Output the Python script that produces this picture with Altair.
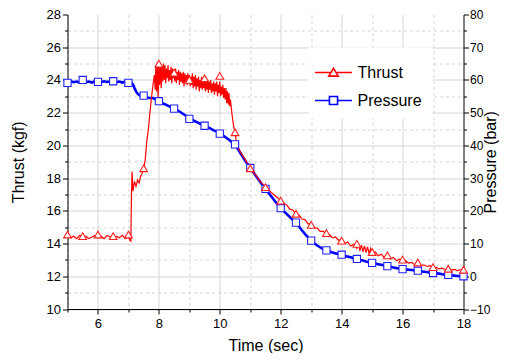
import altair as alt
import pandas as pd

FONT = "Liberation Sans"

# ---------------- data ----------------
# Thrust (kgf): quiet start, ignition jump, ramp
thrust_time_a = [5.0, 5.1, 5.2, 5.3, 5.4, 5.5, 5.6, 5.7, 5.8, 5.9, 6.0, 6.1, 6.2, 6.3, 6.4, 6.5, 6.6, 6.7, 6.8,
                 6.9, 7.0, 7.05, 7.08, 7.1, 7.12, 7.15, 7.2, 7.25, 7.3, 7.35, 7.4, 7.45, 7.5, 7.55, 7.6, 7.65,
                 7.7, 7.75, 7.8, 7.85, 7.88]
thrust_kgf_a = [14.7, 14.35, 14.45, 14.3, 14.5, 14.35, 14.45, 14.3, 14.4, 14.5, 14.35, 14.45, 14.3, 14.5, 14.4,
                14.3, 14.45, 14.35, 14.5, 14.3, 14.45, 14.2, 14.15, 17.0, 18.4, 17.2, 17.8, 17.5, 17.9, 17.7,
                18.1, 18.3, 18.6, 19.1, 20.2, 20.9, 21.9, 22.8, 23.6, 24.3, 23.4]
# Thrust (kgf): noisy plateau
thrust_time_b = [7.9, 7.925, 7.95, 7.975, 8.0, 8.025, 8.05, 8.075, 8.1, 8.125, 8.15, 8.175, 8.2, 8.225, 8.25,
                 8.275, 8.3, 8.325, 8.35, 8.375, 8.4, 8.425, 8.45, 8.475, 8.5, 8.525, 8.55, 8.575, 8.6, 8.625,
                 8.65, 8.675, 8.7, 8.725, 8.75, 8.775, 8.8, 8.825, 8.85, 8.875, 8.9, 8.925, 8.95, 8.975, 9.0,
                 9.025, 9.05, 9.075, 9.1, 9.125, 9.15, 9.175, 9.2, 9.225, 9.25, 9.275, 9.3, 9.325, 9.35, 9.375,
                 9.4, 9.425, 9.45, 9.475, 9.5, 9.525, 9.55, 9.575, 9.6, 9.625, 9.65, 9.675, 9.7, 9.725, 9.75,
                 9.775, 9.8, 9.825, 9.85, 9.875, 9.9, 9.925, 9.95, 9.975, 10.0, 10.025, 10.05, 10.075, 10.1,
                 10.125, 10.15, 10.175, 10.2, 10.225, 10.25, 10.275, 10.3, 10.325, 10.35]
thrust_kgf_b = [24.9, 23.3, 25.1, 22.9, 24.9, 23.7, 25.0, 23.5, 24.8, 23.9, 25.0, 24.0, 24.9, 23.8, 24.7, 24.1,
                24.9, 23.9, 24.6, 24.0, 24.8, 23.8, 24.7, 24.1, 24.6, 23.9, 24.7, 23.8, 24.5, 24.0, 24.6, 23.7,
                24.5, 23.9, 24.4, 23.8, 24.5, 23.6, 24.4, 23.9, 24.3, 23.7, 24.4, 23.8, 24.3, 23.6, 24.2, 23.7,
                24.4, 23.5, 24.2, 23.6, 24.3, 23.4, 24.1, 23.6, 24.2, 23.3, 24.0, 23.5, 24.2, 23.4, 24.0, 23.5,
                24.1, 23.3, 23.9, 23.4, 24.0, 23.2, 23.9, 23.4, 24.0, 23.2, 23.8, 23.3, 23.9, 23.1, 23.8, 23.3,
                23.9, 23.0, 23.7, 23.2, 23.9, 23.0, 23.6, 23.1, 23.7, 22.9, 23.5, 22.8, 23.5, 22.6, 23.3, 22.5,
                23.2, 22.4, 22.8]
# Thrust (kgf): burnout and tail-off
thrust_time_c = [10.4, 10.45, 10.5, 10.55, 10.6, 10.7, 10.8, 10.9, 11.0, 11.1, 11.2, 11.3, 11.4, 11.5, 11.6,
                 11.7, 11.8, 11.9, 12.0, 12.1, 12.2, 12.3, 12.4, 12.5, 12.6, 12.7, 12.8, 12.9, 13.0, 13.1, 13.2,
                 13.3, 13.4, 13.5, 13.6, 13.7, 13.8, 13.9, 14.0, 14.1, 14.2, 14.3, 14.4, 14.5, 14.55, 14.6, 14.65,
                 14.7, 14.75, 14.8, 14.85, 14.9, 14.95, 15.0, 15.1, 15.2, 15.3, 15.4, 15.5, 15.6, 15.7, 15.8,
                 15.9, 16.0, 16.1, 16.2, 16.3, 16.4, 16.5, 16.6, 16.7, 16.8, 16.9, 17.0, 17.1, 17.2, 17.3, 17.4,
                 17.5, 17.6, 17.7, 17.8, 17.9, 18.0]
thrust_kgf_c = [21.9, 21.2, 20.8, 20.1, 19.9, 19.5, 19.25, 18.9, 18.7, 18.35, 18.15, 17.85, 17.65, 17.45, 17.3,
                17.1, 16.95, 16.8, 16.65, 16.45, 16.35, 16.1, 16.05, 15.8, 15.75, 15.5, 15.45, 15.2, 15.2,
                14.95, 14.95, 14.75, 14.75, 14.55, 14.55, 14.35, 14.4, 14.2, 14.25, 14.0, 14.1, 13.85, 13.95,
                13.7, 14.0, 13.55, 13.9, 13.5, 13.85, 13.45, 13.8, 13.4, 13.7, 13.35, 13.5, 13.25, 13.35, 13.15,
                13.25, 13.05, 13.15, 12.95, 13.05, 12.9, 12.95, 12.8, 12.85, 12.7, 12.8, 12.65, 12.7, 12.6,
                12.65, 12.5, 12.55, 12.45, 12.5, 12.4, 12.45, 12.38, 12.42, 12.35, 12.4, 12.4]

pressure_time = [5.0, 5.1, 5.2, 5.3, 5.4, 5.5, 5.6, 5.7, 5.8, 5.9, 6.0, 6.1, 6.2, 6.3, 6.4, 6.5, 6.6, 6.7, 6.8, 6.9,
                 7.0, 7.1, 7.15, 7.2, 7.25, 7.3, 7.35, 7.4, 7.5, 7.6, 7.7, 7.8, 7.9, 8.0, 8.1, 8.2, 8.3, 8.4, 8.5,
                 8.6, 8.7, 8.8, 8.9, 9.0, 9.1, 9.2, 9.3, 9.4, 9.5, 9.6, 9.7, 9.8, 9.9, 10.0, 10.1, 10.2, 10.3, 10.4,
                 10.5, 10.6, 10.7, 10.8, 10.9, 11.0, 11.1, 11.2, 11.3, 11.4, 11.5, 11.6, 11.7, 11.8, 11.9, 12.0, 12.1,
                 12.2, 12.3, 12.4, 12.5, 12.6, 12.7, 12.8, 12.9, 13.0, 13.1, 13.2, 13.3, 13.4, 13.5, 13.6, 13.7, 13.8,
                 13.9, 14.0, 14.1, 14.2, 14.3, 14.4, 14.5, 14.6, 14.7, 14.8, 14.9, 15.0, 15.1, 15.2, 15.3, 15.4, 15.5,
                 15.6, 15.7, 15.8, 15.9, 16.0, 16.1, 16.2, 16.3, 16.4, 16.5, 16.6, 16.7, 16.8, 16.9, 17.0, 17.1, 17.2,
                 17.3, 17.4, 17.5, 17.6, 17.7, 17.8, 17.9, 18.0]
pressure_bar = [59.2, 59.6, 59.3, 59.5, 59.2, 59.7, 59.3, 59.5, 59.2, 59.6, 59.4, 59.3, 59.6, 59.4, 59.5, 59.7, 59.3,
                59.5, 59.2, 59.5, 59.3, 59.1, 58.6, 57.5, 56.5, 55.8, 55.4, 55.1, 55.0, 54.6, 54.5, 54.5, 54.0, 53.3,
                52.9, 52.6, 52.1, 51.7, 51.3, 50.8, 50.2, 49.6, 49.0, 48.2, 47.8, 47.3, 46.9, 46.4, 46.0, 45.6, 45.1,
                44.6, 44.2, 43.7, 43.1, 42.4, 41.7, 41.0, 40.2, 38.8, 37.3, 35.8, 34.4, 33.0, 31.8, 30.5, 29.2, 27.9,
                26.7, 25.5, 24.3, 23.1, 21.9, 20.8, 19.9, 19.0, 18.1, 17.2, 16.4, 15.2, 14.0, 12.9, 11.9, 10.9, 10.1,
                9.4, 8.8, 8.3, 7.9, 7.6, 7.3, 7.0, 6.8, 6.6, 6.3, 6.0, 5.8, 5.5, 5.3, 5.0, 4.8, 4.5, 4.3, 4.1, 3.9,
                3.7, 3.5, 3.3, 3.1, 2.9, 2.7, 2.5, 2.4, 2.2, 2.1, 2.0, 1.9, 1.8, 1.7, 1.5, 1.4, 1.3, 1.1, 1.0, 0.9,
                0.8, 0.6, 0.5, 0.4, 0.3, 0.2, 0.1, 0.0, -0.1]

marker_time = [5.0, 5.5, 6.0, 6.5, 7.0, 7.5, 8.0, 8.5, 9.0, 9.5, 10.0, 10.5, 11.0, 11.5, 12.0, 12.5, 13.0, 13.5,
               14.0, 14.5, 15.0, 15.5, 16.0, 16.5, 17.0, 17.5, 18.0]
thrust_marker = [14.55, 14.45, 14.55, 14.45, 14.55, 18.6, 25.0, 24.45, 24.0, 24.1, 24.25, 20.8, 18.6, 17.45, 16.62,
                 15.82, 15.14, 14.64, 14.18, 13.98, 13.48, 13.28, 13.02, 12.84, 12.56, 12.46, 12.4]
pressure_marker = [59.1, 60.0, 59.4, 59.6, 59.1, 55.2, 53.5, 51.25, 48.1, 46.0, 43.6, 40.3, 33.1, 26.7, 20.8, 16.4,
                   10.9, 7.9, 6.6, 5.3, 4.1, 3.1, 2.2, 1.7, 1.0, 0.4, 0.0]

series_names = ["Thrust", "Pressure"]
series_colors = ["#ff0000", "#0000ff"]

x_ticks = list(range(5, 19))
thrust_ticks = list(range(10, 29))
pressure_ticks = list(range(-10, 81, 5))

df_t = pd.DataFrame({"t": thrust_time_a + thrust_time_b + thrust_time_c,
                     "v": thrust_kgf_a + thrust_kgf_b + thrust_kgf_c})
df_p = pd.DataFrame({"t": pressure_time, "v": pressure_bar})
df_tm = pd.DataFrame({"t": marker_time, "v": thrust_marker})
df_pm = pd.DataFrame({"t": marker_time, "v": pressure_marker})
df_leg = pd.DataFrame({"t": [marker_time[0], marker_time[0]], "v": [thrust_marker[0], thrust_marker[0]],
                       "series": series_names})

W, H = 396, 294.5

# ---------------- scales / axes ----------------
xs = alt.Scale(domain=[5, 18], nice=False, zero=False)
ys_t = alt.Scale(domain=[10, 28], nice=False, zero=False)
ys_p = alt.Scale(domain=[-10, 80], nice=False, zero=False)

minor_odd = "datum.value % 2 != 0"

x_axis = alt.Axis(
    values=x_ticks, title="Time (sec)", labelExpr="datum.value % 2 == 0 ? datum.label : ''",
    grid=True, gridColor="#d4d4d4",
    gridDash={"condition": {"test": minor_odd, "value": [3, 3]}, "value": []},
    gridOpacity={"condition": {"test": "datum.value == 18", "value": 0}, "value": 1},
    tickSize={"condition": {"test": minor_odd, "value": 3}, "value": 5},
    labelFlush=False, labelOverlap=False, labelPadding=3,
    titleX=W / 2, titleY=36, titleAlign="center", titleBaseline="middle",
)
left_axis = alt.Axis(
    orient="left", values=thrust_ticks, title="Thrust (kgf)",
    labelExpr="datum.value % 2 == 0 ? datum.label : ''",
    grid=True, gridColor="#d4d4d4",
    gridDash={"condition": {"test": minor_odd, "value": [3, 3]}, "value": []},
    gridOpacity={"condition": {"test": "datum.value == 28", "value": 0}, "value": 1},
    tickSize={"condition": {"test": minor_odd, "value": 3}, "value": 5},
    labelFlush=False, labelOverlap=False, labelPadding=2,
    titleX=-49, titleY=H / 2, titleAngle=270, titleAlign="center", titleBaseline="middle",
)
right_axis = alt.Axis(
    orient="right", values=pressure_ticks, title="Pressure (bar)",
    labelExpr="datum.value % 10 == 0 ? datum.label : ''",
    grid=False, labelFontSize=12,
    tickSize={"condition": {"test": "datum.value % 10 != 0", "value": 3}, "value": 5},
    labelFlush=False, labelOverlap=False, labelPadding=1,
    titleX=27, titleY=H / 2, titleAngle=270, titleAlign="center", titleBaseline="middle",
)

tri_path = "M-1.32,0L-0.2,0M0.2,0L1.32,0M0,-0.3L0.34,0.26L-0.34,0.26Z"
sq_path = "M-1.32,0L-0.29,0M0.29,0L1.32,0M-0.29,-0.29L0.29,-0.29L0.29,0.29L-0.29,0.29Z"

legend = alt.Legend(
    title=None, orient="none", legendX=241, legendY=33, padding=10, fillColor="white",
    labelFont=FONT, labelFontSize=16, labelColor="black", labelOffset=9,
    symbolSize=784, symbolStrokeWidth=1.6, symbolFillColor="white", symbolOpacity=1, rowPadding=5,
)

pressure_line = alt.Chart(df_p).mark_line(color="#0000ff", strokeWidth=2.6).encode(
    x=alt.X("t:Q", scale=xs, axis=x_axis),
    y=alt.Y("v:Q", scale=ys_p, axis=right_axis),
)
thrust_line = alt.Chart(df_t).mark_line(color="#ff0000", strokeWidth=1.2).encode(
    x=alt.X("t:Q", scale=xs, axis=x_axis),
    y=alt.Y("v:Q", scale=ys_t, axis=left_axis),
)
pressure_pts = alt.Chart(df_pm).mark_point(
    shape="square", fill="white", stroke="#2020ff", size=52, strokeWidth=1.1, opacity=1
).encode(
    x=alt.X("t:Q", scale=xs, axis=x_axis),
    y=alt.Y("v:Q", scale=ys_p, axis=None),
)
thrust_pts = alt.Chart(df_tm).mark_point(
    shape="triangle-up", fill="white", stroke="#ff2020", size=60, strokeWidth=1.1, opacity=1
).encode(
    x=alt.X("t:Q", scale=xs, axis=x_axis),
    y=alt.Y("v:Q", scale=ys_t, axis=None),
)
legend_layer = alt.Chart(df_leg).mark_point(fill="white", opacity=0).encode(
    x=alt.X("t:Q", scale=xs, axis=x_axis),
    y=alt.Y("v:Q", scale=ys_t, axis=None),
    stroke=alt.Stroke("series:N", scale=alt.Scale(domain=series_names, range=series_colors), legend=legend),
    shape=alt.Shape("series:N", scale=alt.Scale(domain=series_names, range=[tri_path, sq_path]), legend=legend),
)

chart = alt.layer(pressure_line, thrust_line, pressure_pts, thrust_pts, legend_layer).resolve_scale(
    y="independent"
).properties(
    width=W, height=H, autosize="none",
    padding={"left": 59.5, "top": 6.5, "right": 35, "bottom": 44},
).configure_view(stroke=None).configure_axis(
    labelFont=FONT, labelFontSize=13, labelColor="black",
    titleFont=FONT, titleFontSize=16, titleFontWeight="normal", titleColor="black",
    domainColor="black", tickColor="black", domainWidth=1, tickWidth=1,
)

chart.save("out.html", embed_options={"renderer": "svg", "actions": False})
